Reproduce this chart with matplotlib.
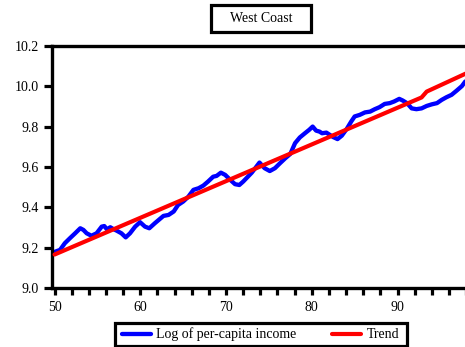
import matplotlib
matplotlib.use("Agg")
import matplotlib.pyplot as plt
from matplotlib.patches import Rectangle
from matplotlib.ticker import MultipleLocator, FormatStrFormatter

plt.rcParams["font.family"] = ["Liberation Serif", "DejaVu Serif"]

# Log of per-capita income, West Coast (year, value)
years = [50.06, 50.64, 51.2, 51.8, 52.4, 53.0, 53.36, 53.75, 54.3, 54.9,
         55.5, 55.8, 56.1, 56.5, 56.9, 57.25, 57.8, 58.3, 58.8, 59.4, 59.97,
         60.55, 61.05, 61.7, 62.7, 63.3, 63.9, 64.4, 65.0, 65.6, 66.2, 66.8,
         67.35, 67.9, 68.5, 68.9, 69.4, 69.9, 70.5, 71.05, 71.55, 72.0,
         72.5, 73.0, 73.4, 73.9, 74.5, 75.1, 75.7, 76.3, 76.9, 77.5, 78.05,
         78.6, 79.2, 79.7, 80.1, 80.5, 80.9, 81.2, 81.7, 82.1, 82.5, 83.0,
         83.5, 84.1, 84.6, 85.0, 85.6, 86.2, 86.8, 87.35, 87.9, 88.5, 89.1,
         89.6, 90.2, 90.6, 91.1, 91.65, 92.2, 92.8, 93.4, 94.0, 94.6, 95.15,
         95.7, 96.3, 96.9, 97.5, 97.9]
log_income = [9.181, 9.19, 9.223, 9.248, 9.272, 9.297, 9.289, 9.272, 9.26,
              9.272, 9.305, 9.308, 9.292, 9.302, 9.292, 9.285, 9.272, 9.252,
              9.272, 9.305, 9.327, 9.305, 9.297, 9.322, 9.358, 9.363, 9.38,
              9.412, 9.429, 9.453, 9.487, 9.495, 9.508, 9.528, 9.552, 9.556,
              9.572, 9.561, 9.536, 9.515, 9.511, 9.528, 9.55, 9.572, 9.594,
              9.622, 9.594, 9.58, 9.594, 9.619, 9.643, 9.665, 9.718, 9.746,
              9.767, 9.784, 9.80, 9.78, 9.775, 9.767, 9.77, 9.759, 9.748,
              9.738, 9.755, 9.79, 9.825, 9.85, 9.858, 9.87, 9.874, 9.886,
              9.896, 9.912, 9.916, 9.924, 9.937, 9.929, 9.916, 9.89, 9.886,
              9.89, 9.902, 9.91, 9.916, 9.932, 9.945, 9.957, 9.978, 10.0,
              10.023]

# Piecewise linear trend with a level shift in the early 90s
trend_years = [50.0, 92.8, 93.4, 98.0]
trend_values = [9.167, 9.944, 9.973, 10.063]

x_ticks = [50, 60, 70, 80, 90]
y_ticks = [9.0, 9.2, 9.4, 9.6, 9.8, 10.0, 10.2]

W, H = 465, 347
fig = plt.figure(figsize=(W / 100, H / 100), dpi=100)
px_per_year = 8.575
x_lo, x_hi = 49.75, 100.0
ax = fig.add_axes([52.4 / W, (H - 288.3) / H,
                   (x_hi - x_lo) * px_per_year / W, (288.3 - 45.7) / H])

ax.plot(years, log_income, color="#0000ff", lw=3.1, solid_capstyle="round",
        solid_joinstyle="round", label="Log of per-capita income", zorder=2)
ax.plot(trend_years, trend_values, color="#ff0000", lw=3.0,
        solid_capstyle="round", label="Trend", zorder=3)

ax.set_xlim(x_lo, x_hi)
ax.set_ylim(9.0, 10.2)
ax.set_xticks(x_ticks)
ax.xaxis.set_minor_locator(MultipleLocator(2))
ax.set_yticks(y_ticks)
ax.yaxis.set_major_formatter(FormatStrFormatter("%.1f"))

for s in ["left", "top", "bottom"]:
    ax.spines[s].set_linewidth(2.4)
ax.spines["right"].set_visible(False)

ax.tick_params(axis="both", which="both", direction="out", width=2.3,
               labelsize=10, color="black")
ax.tick_params(axis="x", which="major", length=5, pad=4.5)
ax.tick_params(axis="x", which="minor", length=5)
ax.tick_params(axis="y", which="major", length=5.5, pad=4)
ax.tick_params(axis="y", which="minor", length=0)

# Boxed title
fig.patches.append(Rectangle((210.5 / W, 1 - 32 / H), 100.5 / W, 27 / H,
                             transform=fig.transFigure, fc="white",
                             ec="black", lw=2.3, zorder=1))
fig.text(261 / W, 1 - 18.5 / H, "West Coast", ha="center", va="center",
         fontsize=10, zorder=2)

# Legend in a rectangular frame
fig.patches.append(Rectangle((114.5 / W, 1 - 345.5 / H), 292.5 / W, 22.5 / H,
                             transform=fig.transFigure, fc="white",
                             ec="black", lw=2.3, zorder=1))
leg = fig.legend(loc="center", bbox_to_anchor=(260.5 / W, 1 - 334.5 / H),
                 ncol=2, fontsize=10, frameon=False,
                 handlelength=2.1, columnspacing=2.55, handletextpad=0.38,
                 borderpad=0.0, borderaxespad=0)
leg.set_zorder(3)

fig.savefig("out.png", dpi=100)
